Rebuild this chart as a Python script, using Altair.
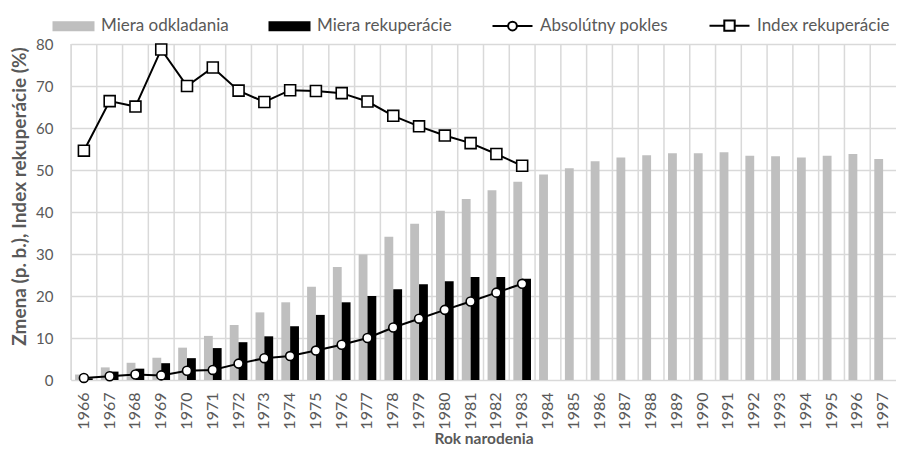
import altair as alt
import pandas as pd

# ---------------- data ----------------
roky = list(range(1966, 1998))
miera_odkladania = [1.3, 3.0, 4.1, 5.3, 7.7, 10.5, 13.1, 16.1, 18.5, 22.2, 26.9, 29.9,
                    34.1, 37.2, 40.3, 43.1, 45.2, 47.2, 48.9, 50.4, 52.1, 53.0, 53.5,
                    54.0, 54.0, 54.2, 53.4, 53.3, 53.0, 53.4, 53.8, 52.6]
miera_rekuperacie = [0.4, 2.0, 2.7, 4.0, 5.2, 7.6, 9.0, 10.4, 12.8, 15.5, 18.5, 20.0,
                     21.6, 22.8, 23.5, 24.5, 24.5, 24.1]
absolutny_pokles = [0.5, 0.9, 1.3, 1.1, 2.2, 2.4, 3.9, 5.2, 5.7, 7.0, 8.4, 10.0,
                    12.5, 14.6, 16.7, 18.7, 20.8, 22.9]
index_rekuperacie = [54.6, 66.4, 65.1, 78.7, 70.0, 74.4, 68.9, 66.2, 69.0, 68.8, 68.3,
                     66.3, 62.9, 60.4, 58.2, 56.4, 53.8, 51.0]
y_ticks = [0, 10, 20, 30, 40, 50, 60, 70, 80]

serie_bar = ["Miera odkladania", "Miera rekuperácie"]
legend_names = ["Miera odkladania", "Miera rekuperácie", "Absolútny pokles", "Index rekuperácie"]

n_rek = len(miera_rekuperacie)
bars_df = pd.DataFrame({
    "rok": roky + roky[:n_rek],
    "hodnota": miera_odkladania + miera_rekuperacie,
    "serie": [serie_bar[0]] * len(roky) + [serie_bar[1]] * n_rek,
})
lines_df = pd.DataFrame({
    "rok": roky[:len(index_rekuperacie)],
    "pokles": absolutny_pokles,
    "index": index_rekuperacie,
})
grid_df = pd.DataFrame({"rok": roky})
legend_df = pd.DataFrame({"serie": legend_names})

# ---------------- styling ----------------
TXT = "#595959"
GRID = "#d9d9d9"
GRAY = "#bfbfbf"
FONT = "Lato"

xscale = alt.Scale(paddingInner=0, paddingOuter=0)
yscale = alt.Scale(domain=[0, 80], nice=False)

x_axis = alt.Axis(orient="bottom", grid=False, labelAngle=-90, ticks=False,
                  domain=False, labelFontSize=16, labelColor=TXT,
                  labelPadding=12, labelFont=FONT,
                  title="Rok narodenia", titleFontSize=15.5, titleColor=TXT,
                  titleFont=FONT, titleFontWeight="bold", titlePadding=2)

y_axis = alt.Axis(orient="left", values=y_ticks, grid=True, gridColor=GRID, gridWidth=1.5,
                  ticks=False, tickSize=0, domain=False, labelFontSize=15,
                  labelColor=TXT, labelFont=FONT, labelPadding=18,
                  title="Zmena (p. b.), Index rekuperácie (%)", titleFontSize=19,
                  titleColor=TXT, titleFont=FONT, titleFontWeight="bold",
                  titlePadding=6, titleY=152)


def xenc(**kw):
    return alt.X("rok:O", scale=xscale, axis=x_axis, **kw)


def yenc(field):
    return alt.Y(field + ":Q", scale=yscale, axis=y_axis)


vgrid = alt.Chart(grid_df).mark_rule(color=GRID, strokeWidth=1.5).encode(
    x=xenc(bandPosition=0))

bars = alt.Chart(bars_df).mark_bar().encode(
    x=xenc(),
    xOffset=alt.XOffset("serie:N", scale=alt.Scale(domain=serie_bar, paddingInner=0,
                                                  paddingOuter=0.46)),
    y=yenc("hodnota"),
    color=alt.Color("serie:N", scale=alt.Scale(domain=serie_bar, range=[GRAY, "#000000"]),
                    legend=None),
)

line_pokles = alt.Chart(lines_df).mark_line(color="black", strokeWidth=2).encode(
    x=xenc(), y=yenc("pokles"))
pts_pokles = alt.Chart(lines_df).mark_point(
    shape="circle", filled=True, fill="white", stroke="black", strokeWidth=1.6,
    size=80, opacity=1).encode(x=xenc(), y=yenc("pokles"))

line_index = alt.Chart(lines_df).mark_line(color="black", strokeWidth=2).encode(
    x=xenc(), y=yenc("index"))
pts_index = alt.Chart(lines_df).mark_point(
    shape="square", filled=True, fill="white", stroke="black", strokeWidth=1.6,
    size=120, opacity=1).encode(x=xenc(), y=yenc("index"))

# legend-only layer (no visible marks); symbols are 40px wide paths
rect_path = "M-1,-0.8H7V0.8H-1Z"
circ_path = ("M-1,0H2.12M3.88,0H7M3.88,0A0.88,0.88,0,1,1,2.12,0"
             "A0.88,0.88,0,1,1,3.88,0Z")
sq_path = "M-1,0H1.96M4.04,0H7M1.96,-1.04H4.04V1.04H1.96Z"
leg = alt.Legend(title=None, orient="none", direction="horizontal", legendX=-21,
                 legendY=-27, padding=0, symbolSize=100, symbolStrokeWidth=2,
                 labelFontSize=17, labelColor=TXT, labelFont=FONT, labelOffset=34,
                 labelLimit=300, columnPadding=36, columns=4)
legend_layer = alt.Chart(legend_df).mark_point(filled=True, opacity=1).encode(
    shape=alt.Shape("serie:N", scale=alt.Scale(domain=legend_names,
                    range=[rect_path, rect_path, circ_path, sq_path]), legend=leg),
    fill=alt.Fill("serie:N", scale=alt.Scale(domain=legend_names,
                  range=[GRAY, "#000000", "#ffffff", "#ffffff"]), legend=leg),
    stroke=alt.Stroke("serie:N", scale=alt.Scale(domain=legend_names,
                      range=[GRAY, "#000000", "#000000", "#000000"]), legend=leg),
).transform_filter("false")

chart = alt.layer(
    vgrid, bars, line_pokles, pts_pokles, line_index, pts_index, legend_layer
).properties(
    width=825, height=336,
    autosize=alt.AutoSizeParams(type="none"),
    padding={"left": 63, "top": 36, "right": 0, "bottom": 69},
).configure_view(stroke=None).configure(font=FONT)

chart.save("out.html", embed_options={"renderer": "svg", "actions": False})
